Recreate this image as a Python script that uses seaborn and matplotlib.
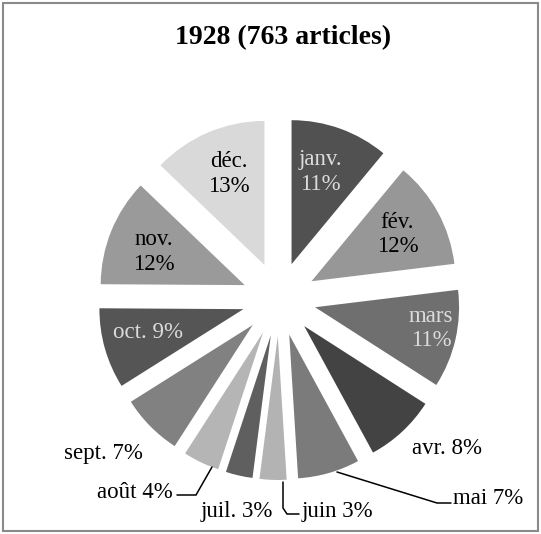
import numpy as np
import matplotlib
matplotlib.use("Agg")
import matplotlib.pyplot as plt
from matplotlib.patches import Rectangle
import seaborn as sns

sns.set_theme(style="white")
plt.rcParams["font.family"] = ["Liberation Serif", "DejaVu Serif"]

# Articles published per month in 1928 (763 in total)
months = ["janv.", "fév.", "mars", "avr.", "mai", "juin",
          "juil.", "août", "sept.", "oct.", "nov.", "déc."]
counts = [84, 92, 84, 61, 53, 23, 23, 31, 53, 69, 92, 98]
colors = ["#515151", "#979797", "#6f6f6f", "#434343", "#7b7b7b", "#b3b3b3",
          "#5f5f5f", "#b5b5b5", "#818181", "#555555", "#9a9a9a", "#d9d9d9"]
title = "1928 (763 articles)"

W, H = 541, 534
fig = plt.figure(figsize=(W / 100, H / 100), dpi=100)
ax = fig.add_axes([0, 0, 1, 1])


def px(x, y):
    """Pixel position (origin top-left) to data coordinates."""
    return x, H - y


cx, cy = px(279, 299)
R = 144
gap = 37

wedges, _ = ax.pie(counts, colors=colors, startangle=90, counterclock=False,
                   radius=R, center=(cx, cy), explode=[gap] * len(counts),
                   wedgeprops=dict(linewidth=0))
ax.set_xlim(0, W)
ax.set_ylim(0, H)
ax.set_aspect("auto")
ax.axis("off")

total = sum(counts)
pcts = [round(100 * c / total) for c in counts]

fs = 16.5
light = "#dcdcdc"

# labels placed inside their wedge: index -> (radial fraction, angle shift, two lines, colour)
inside = {
    0: (0.67, 2.5, True, light),
    1: (0.68, 0.0, True, "black"),
    2: (0.82, 2.5, True, light),
    9: (0.68, -2.0, False, light),
    10: (0.67, 2.0, True, "black"),
    11: (0.68, -1.5, True, "black"),
}
for i, (f, shift, two, col) in inside.items():
    w = wedges[i]
    th = np.deg2rad(0.5 * (w.theta1 + w.theta2) + shift)
    x = w.center[0] + f * w.r * np.cos(th)
    y = w.center[1] + f * w.r * np.sin(th)
    sep = "\n" if two else " "
    ax.text(x, y, f"{months[i]}{sep}{pcts[i]}%", ha="center", va="center",
            fontsize=fs, color=col, linespacing=1.2)

# labels placed outside, some with leader lines
outside = {
    3: ((447, 448), "center", None),
    4: ((453, 499), "left", [(337, 472), (437, 503), (451, 503)]),
    5: ((302, 512), "left", [(283, 482), (283, 508), (287, 514), (299, 514)]),
    6: ((237, 512), "center", None),
    7: ((173, 492), "right", [(212, 467), (196, 495), (177, 495)]),
    8: ((103, 453), "center", None),
}
for i, ((x, y), ha, line) in outside.items():
    ax.text(*px(x, y), f"{months[i]} {pcts[i]}%", ha=ha, va="center",
            fontsize=fs, color="black")
    if line:
        xs, ys = zip(*[px(a, b) for a, b in line])
        ax.plot(xs, ys, color="black", lw=1.1, solid_joinstyle="miter")

ax.text(*px(283, 38), title, ha="center", va="center", fontsize=20,
        fontweight="bold", color="black")

ax.add_patch(Rectangle((3, 3), W - 6, H - 6, fill=False,
                       edgecolor="#8a8a8a", lw=1.5, clip_on=False))

fig.savefig("out.png", dpi=100, facecolor="white")
